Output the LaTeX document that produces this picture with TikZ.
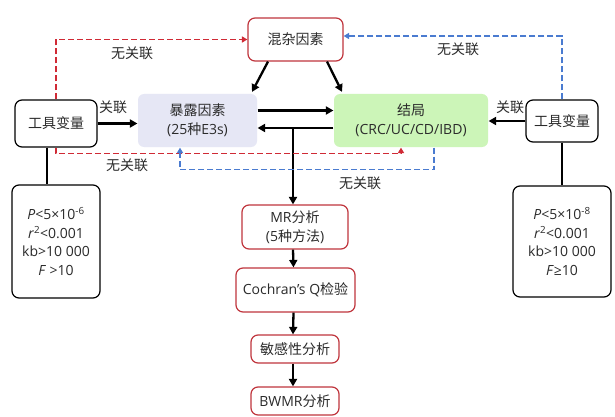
\documentclass[tikz,border=0pt]{standalone}
\usepackage{fontspec}
\setmainfont{Noto Sans CJK SC}
\newfontfamily\latf{Open Sans}
\newcommand\lsf[1]{{\latf #1}}
\usetikzlibrary{arrows.meta}
\definecolor{txt}{HTML}{2B2B2B}
\definecolor{boxred}{HTML}{C0353D}
\definecolor{dred}{HTML}{D02A35}
\definecolor{dblue}{HTML}{4A7BD0}
\definecolor{lav}{HTML}{E6E7F5}
\definecolor{lgreen}{HTML}{CCF5B8}
\tikzset{
  box/.style={draw=black, line width=1.2pt, rounded corners=7pt, text=txt, align=center,
    font=\fontsize{14}{19}\selectfont, inner sep=0pt},
  redbox/.style={box, draw=boxred},
  fillbox/.style={box, draw=none, rounded corners=6pt},
  arr/.style={line width=2.3pt, -{Triangle[length=7.5pt,width=8pt]}},
  plain/.style={line width=2.1pt},
  rd/.style={draw=dred, line width=1.6pt, dash pattern=on 6pt off 3pt, -{Triangle[length=5.5pt,width=6pt]}},
  bd/.style={draw=dblue, line width=1.6pt, dash pattern=on 6pt off 3pt, -{Triangle[length=5.5pt,width=6pt]}},
  lab/.style={text=txt, font=\fontsize{14}{16}\selectfont, inner sep=0pt}
}
\begin{document}
\begin{tikzpicture}[x=1pt,y=-1pt]
\useasboundingbox[fill=white] (0,0) rectangle (615,417);
% nodes
\node[redbox, minimum width=95pt, minimum height=43pt] (conf) at (295.5,39.5) {混杂因素};
\node[box, minimum width=82pt, minimum height=47pt] (liv) at (56,123.5) {工具变量};
\node[fillbox, fill=lav, minimum width=119pt, minimum height=53pt] (expo) at (197.5,120.5) {暴露因素\\\lsf{(25}种\lsf{E3s)}};
\node[fillbox, fill=lgreen, minimum width=154pt, minimum height=53pt] (out) at (411,120.5) {结局\\\lsf{(CRC/UC/CD/IBD)}};
\node[box, minimum width=72pt, minimum height=42pt] (riv) at (562,121) {工具变量};
\node[box, minimum width=88pt, minimum height=113pt, font=\latf\fontsize{14}{18.5}\selectfont] (lcrit) at (56,241.5)
  {\textit{P}<5×10\textsuperscript{-6}\\\textit{r}\textsuperscript{2}<0.001\\kb>10 000\\\textit{F} >10};
\node[box, minimum width=98pt, minimum height=111pt, font=\latf\fontsize{14}{18.5}\selectfont] (rcrit) at (562,241.5)
  {\textit{P}<5×10\textsuperscript{-8}\\\textit{r}\textsuperscript{2}<0.001\\kb>10 000\\\textit{F}≥10};
\node[redbox, minimum width=106pt, minimum height=44pt] (mr) at (295,227) {\lsf{MR}分析\\\lsf{(5}种方法\lsf{)}};
\node[redbox, minimum width=119pt, minimum height=44pt] (coch) at (295.5,290) {\lsf{Cochran’s Q}检验};
\node[redbox, minimum width=88pt, minimum height=28pt] (sens) at (295,349) {敏感性分析};
\node[redbox, minimum width=88pt, minimum height=28pt] (bwmr) at (295,401) {\lsf{BWMR}分析};
% labels
\node[lab] (l1) at (113,107) {关联};
\node[lab] (l2) at (510,107) {关联};
\node[lab] (n1) at (132,53) {无关联};
\node[lab] (n2) at (458,49) {无关联};
\node[lab] (n3) at (127,165) {无关联};
\node[lab] (n4) at (360,183) {无关联};
% black arrows
\draw[arr] (liv.east) -- (liv.east -| expo.west);
\draw[arr] (riv.west) -- (riv.west -| out.east);
\draw[arr] ([xshift=-27.5pt]conf.south) -- ([xshift=54.5pt,yshift=1.5pt]expo.north);
\draw[arr] ([xshift=31.5pt]conf.south) -- ([xshift=-69pt,yshift=1.5pt]out.north);
\draw[arr] ([yshift=10pt]expo.east) -- ([yshift=10pt]out.west);
\draw[arr] ([yshift=-7.5pt]out.west) -- ([yshift=-7.5pt]expo.east);
\coordinate (j) at ([yshift=-7.5pt]expo.east);
\draw[arr] ([xshift=-2pt]mr.north |- j) -- ([xshift=-2pt]mr.north);
\draw[arr] ([xshift=-2pt]mr.south) -- ([xshift=-2pt]coch.north);
\draw[arr] ([xshift=-2pt]coch.south) -- ([xshift=-2pt]sens.north);
\draw[arr] ([xshift=-2pt]sens.south) -- ([xshift=-2pt]bwmr.north);
\draw[plain] ([xshift=-9pt]liv.south) -- ([xshift=-9pt]liv.south |- lcrit.north);
\draw[plain] (riv.south) -- (riv.south |- rcrit.north);
% dashed
\draw[rd] (liv.north) |- (conf.west);
\draw[rd] (liv.south) -- ++(0,6) -| ([xshift=-10pt]out.south);
\draw[bd] (riv.north) |- ([yshift=3.5pt]conf.east);
\draw[bd] ([xshift=23pt]out.south) -- ++(0,22) -| ([xshift=-17.5pt]expo.south);
\end{tikzpicture}
\end{document}
